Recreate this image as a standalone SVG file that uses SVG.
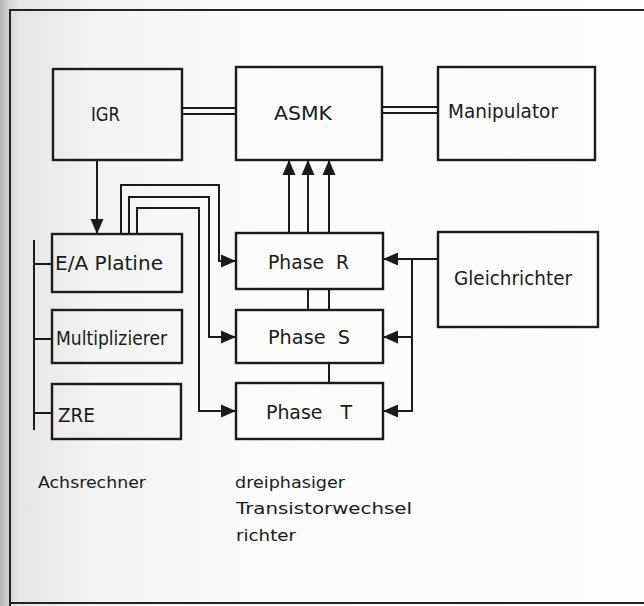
<svg xmlns="http://www.w3.org/2000/svg" width="644" height="606" viewBox="0 0 644 606">
  <defs>
    <linearGradient id="bg" x1="0" y1="0" x2="1" y2="0">
      <stop offset="0" stop-color="#b4b4b4"/>
      <stop offset="0.016" stop-color="#d8d8d8"/>
      <stop offset="0.03" stop-color="#e6e6e6"/>
      <stop offset="0.15" stop-color="#f3f3f3"/>
      <stop offset="0.4" stop-color="#fbfbfb"/>
      <stop offset="1" stop-color="#fdfdfd"/>
    </linearGradient>
    <marker id="ah" markerUnits="userSpaceOnUse" markerWidth="16" markerHeight="14" refX="15" refY="7" orient="auto">
      <path d="M0,0.5 L15,7 L0,13.5 Z" fill="#1a1a1a"/>
    </marker>
    <style>
      .box { fill: none; stroke: #1a1a1a; stroke-width: 2.4; }
      .ln { fill: none; stroke: #1a1a1a; stroke-width: 2; }
      .frame { fill: none; stroke: #222; stroke-width: 2; }
      .t { font-family: "DejaVu Sans", "Liberation Sans", sans-serif; font-size: 19px; fill: #1a1a1a; }
      .s { font-family: "DejaVu Sans", "Liberation Sans", sans-serif; font-size: 16px; fill: #1a1a1a; }
    </style>
  </defs>
  <rect x="0" y="0" width="644" height="606" fill="url(#bg)"/>
  <path class="frame" d="M10,606 V10 H644 M10,603 H644"/>

  <g id="IGR">
    <rect class="box" x="53" y="69" width="129" height="91"/>
    <text class="t" x="91" y="121" textLength="29" lengthAdjust="spacingAndGlyphs">IGR</text>
  </g>
  <g id="ASMK">
    <rect class="box" x="236" y="67" width="146" height="93"/>
    <text class="t" x="274" y="120" textLength="58" lengthAdjust="spacingAndGlyphs">ASMK</text>
  </g>
  <g id="Manipulator">
    <rect class="box" x="438" y="67" width="157" height="93"/>
    <text class="t" x="448" y="118" textLength="110" lengthAdjust="spacingAndGlyphs">Manipulator</text>
  </g>
  <g id="EA_Platine">
    <rect class="box" x="52" y="234" width="130" height="58"/>
    <text class="t" x="55" y="270" textLength="108" lengthAdjust="spacingAndGlyphs">E/A Platine</text>
  </g>
  <g id="Multiplizierer">
    <rect class="box" x="52" y="310" width="130" height="53"/>
    <text class="t" x="56" y="345" textLength="111" lengthAdjust="spacingAndGlyphs">Multiplizierer</text>
  </g>
  <g id="ZRE">
    <rect class="box" x="52" y="384" width="129" height="55"/>
    <text class="t" x="58" y="422" textLength="37" lengthAdjust="spacingAndGlyphs">ZRE</text>
  </g>
  <g id="PhaseR">
    <rect class="box" x="236" y="233" width="147" height="56"/>
    <text class="t" x="268" y="269" textLength="81" lengthAdjust="spacingAndGlyphs" xml:space="preserve">Phase  R</text>
  </g>
  <g id="PhaseS">
    <rect class="box" x="236" y="310" width="147" height="53"/>
    <text class="t" x="268" y="344" textLength="82" lengthAdjust="spacingAndGlyphs" xml:space="preserve">Phase  S</text>
  </g>
  <g id="PhaseT">
    <rect class="box" x="236" y="383" width="147" height="56"/>
    <text class="t" x="266" y="419" textLength="86" lengthAdjust="spacingAndGlyphs" xml:space="preserve">Phase   T</text>
  </g>
  <g id="Gleichrichter">
    <rect class="box" x="438" y="232" width="160" height="95"/>
    <text class="t" x="454" y="285" textLength="118" lengthAdjust="spacingAndGlyphs">Gleichrichter</text>
  </g>
  <g id="labels">
    <text class="s" x="38" y="488" textLength="108" lengthAdjust="spacingAndGlyphs">Achsrechner</text>
    <text class="s" x="235" y="488" textLength="110" lengthAdjust="spacingAndGlyphs">dreiphasiger</text>
    <text class="s" x="236" y="514" textLength="176" lengthAdjust="spacingAndGlyphs">Transistorwechsel</text>
    <text class="s" x="236" y="541" textLength="60" lengthAdjust="spacingAndGlyphs">richter</text>
  </g>

  <g id="connectors">
    <path class="ln" d="M182,108 H236 M182,114 H236"/>
    <path class="ln" d="M382,107 H438 M382,113 H438"/>
    <path class="ln" d="M97,160 V234" marker-end="url(#ah)"/>
    <path class="ln" d="M121,234 V185 H219 V261 H236" marker-end="url(#ah)"/>
    <path class="ln" d="M129,234 V197 H209 V337 H236" marker-end="url(#ah)"/>
    <path class="ln" d="M137,234 V208 H199 V411 H236" marker-end="url(#ah)"/>
    <path class="ln" d="M289,233 V160" marker-end="url(#ah)"/>
    <path class="ln" d="M308,233 V160" marker-end="url(#ah)"/>
    <path class="ln" d="M329,233 V160" marker-end="url(#ah)"/>
    <path class="ln" d="M308,289 V310 M329,289 V310 M329,363 V383"/>
    <path class="ln" d="M34,240 V430 M34,264 H52 M34,339 H52 M34,413 H52"/>
    <path class="ln" d="M438,259 H383" marker-end="url(#ah)"/>
    <path class="ln" d="M412,259 V411 H383" marker-end="url(#ah)"/>
    <path class="ln" d="M411,337 H383" marker-end="url(#ah)"/>
  </g>
</svg>
